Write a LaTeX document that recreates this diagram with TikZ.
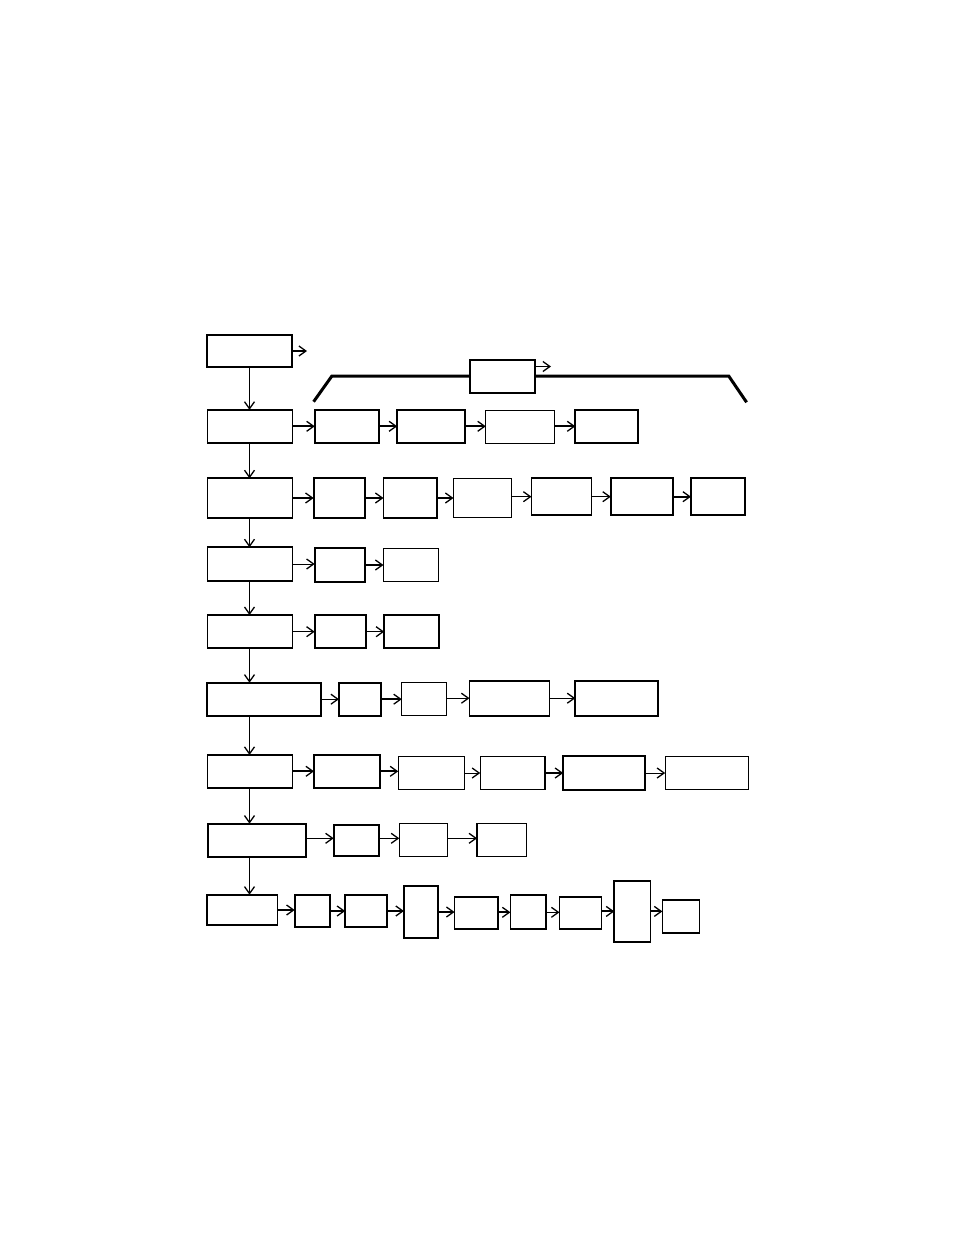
\documentclass[tikz,border=0pt]{standalone}
\usepackage{tikz}
\usetikzlibrary{arrows.meta}

\begin{document}
\begin{tikzpicture}[x=1pt, y=-1pt,
        box/.style={draw, line width=1.8pt, inner sep=0pt, outer sep=0pt},
        boxthin/.style={draw, line width=1pt, inner sep=0pt, outer sep=0pt},
        flow/.style={line width=1pt, -{Straight Barb[length=7pt,width=10pt,line width=1.3pt]}},
        flowb/.style={line width=2pt, -{Straight Barb[length=7pt,width=10pt,line width=1.3pt]}},
        bracket/.style={line width=3pt}]
        \useasboundingbox (0,0) rectangle (954,1235);
        \coordinate (trunk) at (249.5,0);

        % Top box and bracket
        \node[box, minimum width=85pt, minimum height=32pt] (r0a) at (249.5,351) {};
        \coordinate (r0out) at (307,351);
        \draw[flowb] (r0a.east) -- (r0out);
        \node[box, line width=2pt, minimum width=65pt, minimum height=33pt] (top) at (502,376) {};
        \coordinate (topout) at (551,366.5);
        \draw[flow] (top.east |- topout) -- (topout);
        \draw[bracket] (313.6,401.7) -- (331.9,376) -- (top.west);
        \draw[bracket] (top.east) -- (728.7,376) -- (746.6,402.3);

        % Row 1
        \node[box, minimum width=85pt, minimum height=33pt] (r1a) at (249.9,426.3) {};
        \node[box, minimum width=64.5pt, minimum height=33pt] (r1b) at (347,426.3) {};
        \node[box, minimum width=68pt, minimum height=33pt] (r1c) at (431.2,426.3) {};
        \node[boxthin, minimum width=69pt, minimum height=32.6pt] (r1d) at (520.3,427) {};
        \node[box, minimum width=62.3pt, minimum height=33pt] (r1e) at (606.5,426.3) {};
        \draw[flowb] (r1a.east) -- (r1b.west);
        \draw[flowb] (r1b.east) -- (r1c.west);
        \draw[flowb] (r1c.east) -- (r1c.east -| r1d.west);
        \draw[flowb] (r1d.east |- r1e) -- (r1e.west);

        % Row 2
        \node[box, minimum width=85pt, minimum height=39.4pt] (r2a) at (249.9,498) {};
        \node[box, minimum width=51.3pt, minimum height=39.4pt] (r2b) at (339.3,498) {};
        \node[box, minimum width=53.8pt, minimum height=39.4pt] (r2c) at (410.4,498) {};
        \node[boxthin, minimum width=58pt, minimum height=38.7pt] (r2d) at (482.5,497.7) {};
        \node[box, minimum width=60pt, minimum height=36.7pt] (r2e) at (561.5,496.7) {};
        \node[box, minimum width=62.3pt, minimum height=36.7pt] (r2f) at (642,496.7) {};
        \node[box, minimum width=54.2pt, minimum height=36.7pt] (r2g) at (718.1,496.7) {};
        \draw[flowb] (r2a.east) -- (r2b.west);
        \draw[flowb] (r2b.east) -- (r2c.west);
        \draw[flowb] (r2c.east) -- (r2c.east -| r2d.west);
        \draw[flow] (r2d.east |- r2e) -- (r2e.west);
        \draw[flow] (r2e.east) -- (r2f.west);
        \draw[flowb] (r2f.east) -- (r2g.west);

        % Row 3
        \node[box, minimum width=85pt, minimum height=33.4pt] (r3a) at (249.9,564) {};
        \node[box, minimum width=50.2pt, minimum height=33.4pt] (r3b) at (339.8,565) {};
        \node[boxthin, minimum width=55pt, minimum height=32.7pt] (r3c) at (411,565.3) {};
        \draw[flow] (r3a.east) -- (r3a.east -| r3b.west);
        \draw[flowb] (r3b.east) -- (r3b.east -| r3c.west);

        % Row 4
        \node[box, minimum width=85pt, minimum height=33.3pt] (r4a) at (249.9,631.7) {};
        \node[box, minimum width=51pt, minimum height=33.3pt] (r4b) at (340.2,631.7) {};
        \node[box, minimum width=55pt, minimum height=33.3pt] (r4c) at (411.7,631.7) {};
        \draw[flow] (r4a.east) -- (r4b.west);
        \draw[flow] (r4b.east) -- (r4c.west);

        % Row 5
        \node[box, minimum width=113.6pt, minimum height=33pt] (r5a) at (264,699.2) {};
        \node[box, minimum width=42pt, minimum height=33pt] (r5b) at (360,699.2) {};
        \node[boxthin, minimum width=44.8pt, minimum height=33pt] (r5c) at (424.2,699.2) {};
        \node[box, minimum width=80pt, minimum height=35pt] (r5d) at (509.5,698.2) {};
        \node[box, minimum width=82.7pt, minimum height=35pt] (r5e) at (616.7,698.2) {};
        \draw[flow] (r5a.east) -- (r5b.west);
        \draw[flowb] (r5b.east) -- (r5c.west);
        \draw[flow] (r5c.east |- r5d) -- (r5d.west);
        \draw[flow] (r5d.east) -- (r5e.west);

        % Row 6
        \node[box, minimum width=85pt, minimum height=32.7pt] (r6a) at (249.9,771.3) {};
        \node[box, minimum width=66pt, minimum height=32.7pt] (r6b) at (347,771.3) {};
        \node[box, line width=1.5pt, minimum width=66.3pt, minimum height=33.4pt] (r6c) at (431.4,773) {};
        \node[box, line width=1.5pt, minimum width=64.5pt, minimum height=33.4pt] (r6d) at (512.5,773) {};
        \node[box, minimum width=82pt, minimum height=33.4pt] (r6e) at (604.2,773) {};
        \node[boxthin, minimum width=83.2pt, minimum height=33.4pt] (r6f) at (706.8,773) {};
        \draw[flowb] (r6a.east) -- (r6b.west);
        \draw[flowb] (r6b.east) -- (r6b.east -| r6c.west);
        \draw[flow] (r6c.east) -- (r6d.west);
        \draw[flowb] (r6d.east) -- (r6e.west);
        \draw[flow] (r6e.east) -- (r6f.west);

        % Row 7
        \node[box, minimum width=98.2pt, minimum height=33.3pt] (r7a) at (257,840.3) {};
        \node[box, minimum width=45.2pt, minimum height=31.3pt] (r7b) at (356.3,840.7) {};
        \node[box, line width=1.5pt, minimum width=48pt, minimum height=32.7pt] (r7c) at (423.3,840) {};
        \node[box, line width=1.5pt, minimum width=49.4pt, minimum height=32.7pt] (r7d) at (501.8,840) {};
        \draw[flow] (r7a.east |- 0,838.3) -- (r7b.west |- 0,838.3);
        \draw[flow] (r7b.east |- 0,838.3) -- (r7c.west |- 0,838.3);
        \draw[flow] (r7c.east |- 0,838.3) -- (r7d.west |- 0,838.3);

        % Row 8
        \node[box, minimum width=70.2pt, minimum height=30.6pt] (r8a) at (242.3,910) {};
        \node[box, minimum width=35pt, minimum height=32.6pt] (r8b) at (312.2,911) {};
        \node[box, minimum width=42pt, minimum height=32.6pt] (r8c) at (366.2,911) {};
        \node[box, minimum width=33.7pt, minimum height=52.6pt] (r8d) at (420.8,912) {};
        \node[box, minimum width=43.7pt, minimum height=32.6pt] (r8e) at (476.4,913) {};
        \node[box, minimum width=35.5pt, minimum height=34pt] (r8f) at (528.2,912.3) {};
        \node[box, minimum width=42pt, minimum height=32.6pt] (r8g) at (580.5,913) {};
        \node[box, minimum width=36.2pt, minimum height=61.3pt] (r8h) at (632.4,911.4) {};
        \node[box, minimum width=37pt, minimum height=33.3pt] (r8i) at (680.9,916.4) {};
        \draw[flowb] (r8a.east) -- (r8a.east -| r8b.west);
        \draw[flowb] (r8b.east) -- (r8c.west);
        \draw[flowb] (r8c.east) -- (r8c.east -| r8d.west);
        \draw[flowb] (r8d.east) -- (r8d.east -| r8e.west);
        \draw[flowb] (r8e.east |- r8f) -- (r8f.west);
        \draw[flow] (r8f.east) -- (r8f.east -| r8g.west);
        \draw[flowb] (r8g.east |- r8h) -- (r8h.west);
        \draw[flowb] (r8h.east) -- (r8h.east -| r8i.west);

        % Trunk
        \draw[flow] (r0a.south -| trunk) -- (r1a.north -| trunk);
        \draw[flow] (r1a.south -| trunk) -- (r2a.north -| trunk);
        \draw[flow] (r2a.south -| trunk) -- (r3a.north -| trunk);
        \draw[flow] (r3a.south -| trunk) -- (r4a.north -| trunk);
        \draw[flow] (r4a.south -| trunk) -- (r5a.north -| trunk);
        \draw[flow] (r5a.south -| trunk) -- (r6a.north -| trunk);
        \draw[flow] (r6a.south -| trunk) -- (r7a.north -| trunk);
        \draw[flow] (r7a.south -| trunk) -- (r8a.north -| trunk);
    \end{tikzpicture}
\end{document}
